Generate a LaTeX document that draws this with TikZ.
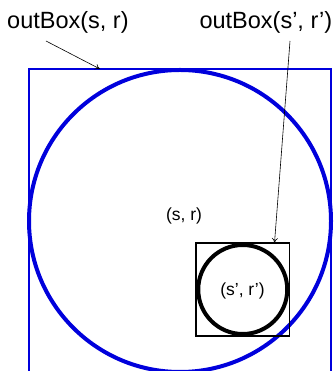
\documentclass[tikz,border=0pt]{standalone}
\usepackage{fontspec}
\setmainfont{Liberation Sans}
\usetikzlibrary{arrows.meta}
\definecolor{bl}{RGB}{0,0,220}
\begin{document}
\begin{tikzpicture}[x=1pt,y=1pt,
  lbl/.style={inner sep=0pt, font=\fontsize{23.5}{28}\selectfont},
  inlbl/.style={inner sep=0pt, font=\fontsize{17.5}{21}\selectfont},
  ptr/.style={line width=0.6pt, -{To[length=5pt,width=6pt]}}]
\useasboundingbox (0,0) rectangle (333,371);
\begin{scope}
\clip (0,0) rectangle (333,371);
\draw[bl, line width=2pt] (28.5,-5) -- (28.5,302) -- (331,302) -- (331,-5);
\draw[bl, line width=4pt] (180,150) circle (151);
\end{scope}
\draw[black, line width=1.8pt] (196,128) rectangle (289.5,35);
\draw[black, line width=4pt] (242.75,81.5) circle (44.5);
\node[lbl, anchor=base west] (l1) at (7,342) {outBox(s, r)};
\node[lbl, anchor=base east] (l2) at (332.5,342) {outBox(s’, r’)};
\node[inlbl] (sr) at (184,155) {(s, r)};
\node[inlbl] (sr2) at (242.5,80) {(s’, r’)};
\coordinate (a1s) at (46,330);
\coordinate (a1e) at (100,302);
\coordinate (a2s) at (290,330);
\coordinate (a2e) at (274.5,128);
\draw[ptr] (a1s) -- (a1e);
\draw[ptr] (a2s) -- (a2e);
\end{tikzpicture}
\end{document}
